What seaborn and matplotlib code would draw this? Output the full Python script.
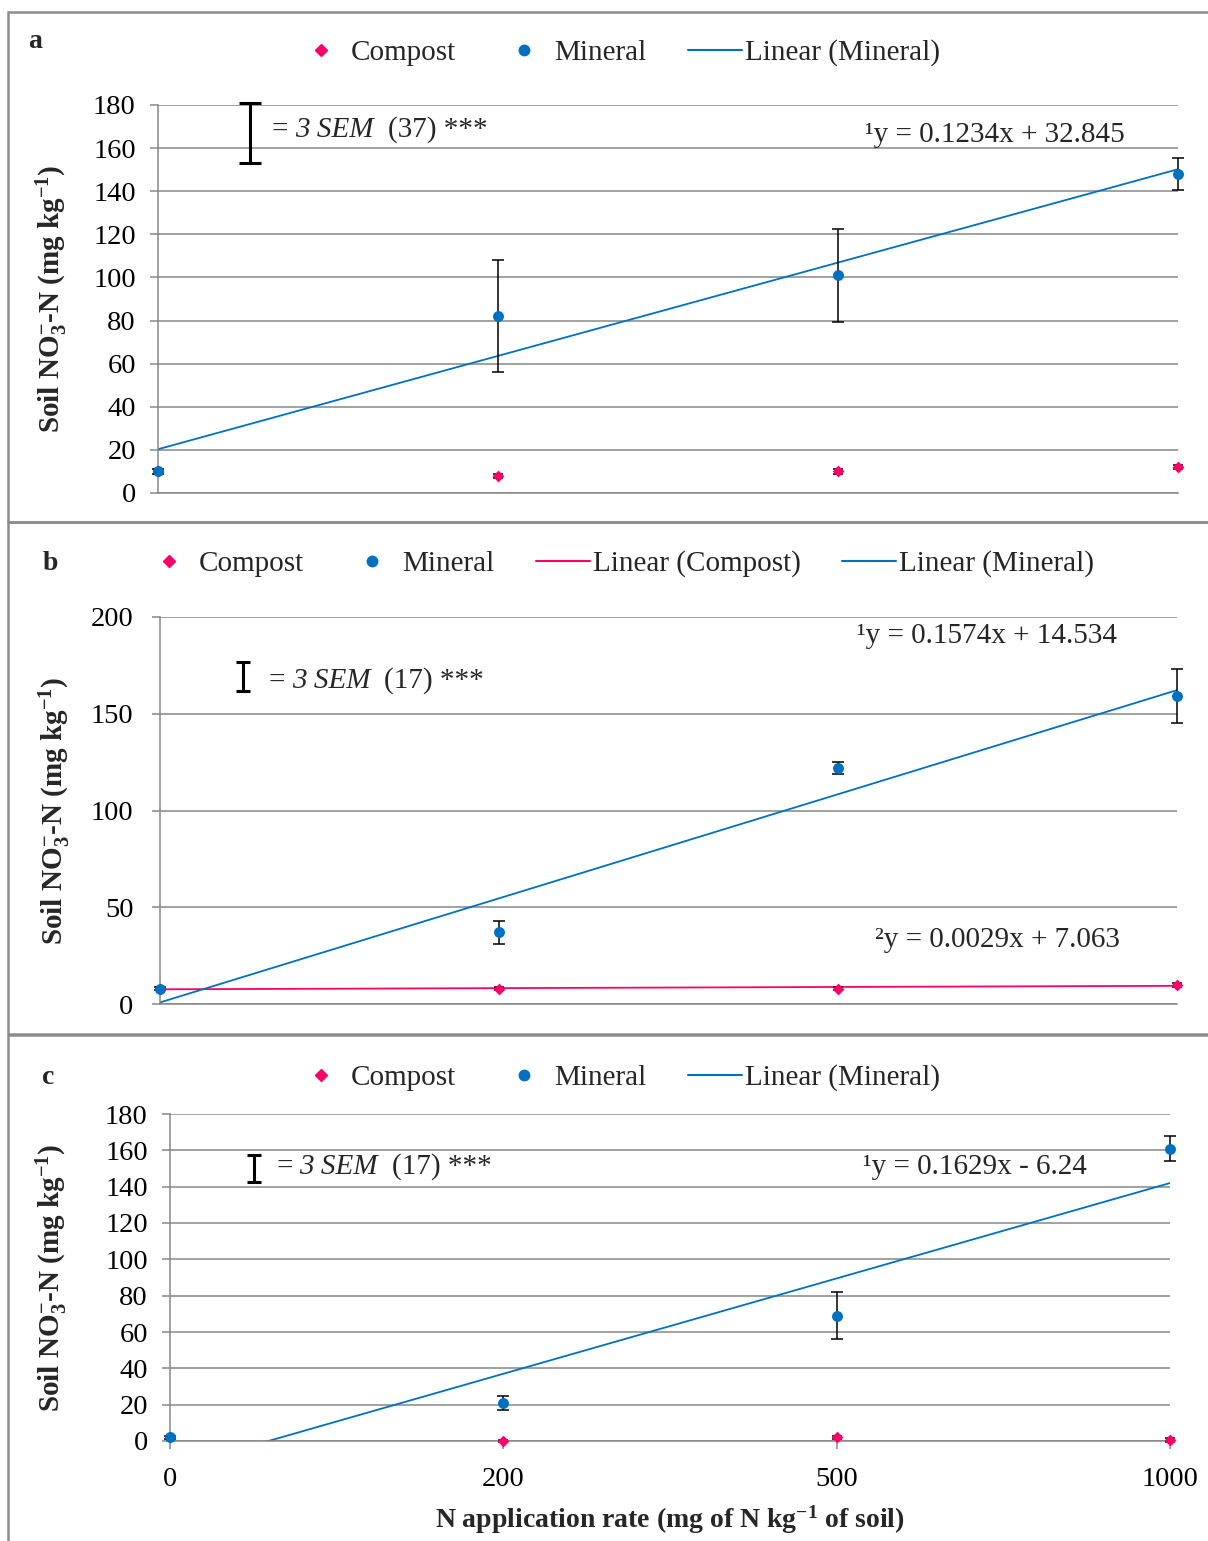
import numpy as np
import matplotlib
matplotlib.use("Agg")
import matplotlib.pyplot as plt
from matplotlib.patches import Rectangle
from matplotlib.lines import Line2D
import seaborn as sns

sns.set_theme(style="white")
plt.rcParams['font.family'] = ['Liberation Serif', 'DejaVu Serif']
plt.rcParams['mathtext.fontset'] = 'custom'
plt.rcParams['mathtext.rm'] = 'Liberation Serif'
plt.rcParams['mathtext.it'] = 'Liberation Serif:italic'
plt.rcParams['mathtext.bf'] = 'Liberation Serif:bold'

PINK = '#FF0066'
BLUE = '#0070C0'
GRID = '#878787'

# ---- data ----
rates = ["0", "200", "500", "1000"]

compost_a = [10, 8, 10, 12]
compost_a_err = [1, 1, 1, 1]
mineral_a = [10, 82, 101, 148]
mineral_a_err = [1, 26, 21.5, 7.5]

compost_b = [8, 8, 8, 10]
compost_b_err = [1, 1, 1, 1]
mineral_b = [8, 37, 122, 159]
mineral_b_err = [1, 6, 3, 14]

compost_c = [2, 0, 2, 0.5]
compost_c_err = [1, 0.5, 1, 1]
mineral_c = [2, 21, 69, 161]
mineral_c_err = [1, 4, 13, 7]

sem_a = (167, 14)
sem_b = (169.5, 7.5)
sem_c = (150, 7.5)

eq_a = "\u00b9y = 0.1234x + 32.845"
eq_b1 = "\u00b9y = 0.1574x + 14.534"
eq_b2 = "\u00b2y = 0.0029x + 7.063"
eq_c = "\u00b9y = 0.1629x - 6.24"

ylab = r"Soil NO$_\mathbf{3}^\mathbf{-}$-N (mg kg$^\mathbf{-1}$)"
xlab = r"N application rate (mg of N kg$^\mathbf{-1}$ of soil)"

W, H = 1208, 1541
fig = plt.figure(figsize=(W / 100, H / 100), dpi=100)


def px_axes(left, right, top, bottom):
    return fig.add_axes([left / W, 1 - bottom / H, (right - left) / W, (bottom - top) / H])


def panel(ax, compost, compost_err, mineral, mineral_err, ymax, ystep,
          fit_compost, sem, sem_x, sem_cap, show_x, tickpad):
    pos = np.arange(len(rates))
    ax.errorbar(pos, compost, yerr=compost_err, fmt='none', ecolor='black',
                elinewidth=1.1, capsize=3.5, capthick=1.1, clip_on=False, zorder=3)
    ax.errorbar(pos, mineral, yerr=mineral_err, fmt='none', ecolor='black',
                elinewidth=1.1, capsize=4, capthick=1.1, clip_on=False, zorder=3)
    sns.scatterplot(x=pos, y=compost, marker='D', color=PINK, s=36, linewidth=0,
                    clip_on=False, zorder=4, ax=ax)
    sns.scatterplot(x=pos, y=mineral, marker='o', color=BLUE, s=62, linewidth=0,
                    clip_on=False, zorder=4, ax=ax)
    if fit_compost:
        sns.regplot(x=pos, y=compost, scatter=False, ci=None, truncate=True,
                    color=PINK, line_kws=dict(lw=1.3, zorder=2), ax=ax)
    sns.regplot(x=pos, y=mineral, scatter=False, ci=None, truncate=True,
                color=BLUE, line_kws=dict(lw=1.3, zorder=2), ax=ax)
    # 3 SEM bar
    ax.errorbar([sem_x], [sem[0]], yerr=[sem[1]], fmt='none', ecolor='black',
                elinewidth=2.2, capsize=sem_cap, capthick=2.2, clip_on=False, zorder=3)

    ax.set_xlim(0, 3)
    ax.set_ylim(0, ymax)
    ax.set_yticks(np.arange(0, ymax + 1, ystep))
    ax.set_xticks(pos)
    ax.yaxis.grid(True, color=GRID, lw=1.1)
    ax.xaxis.grid(False)
    ax.set_axisbelow(True)
    for s in ['top', 'right']:
        ax.spines[s].set_visible(False)
    for s in ['left', 'bottom']:
        ax.spines[s].set_color(GRID)
        ax.spines[s].set_linewidth(1.1)
    ax.tick_params(axis='y', left=True, direction='out', length=6, width=1.1,
                   color=GRID, labelsize=20.5, pad=tickpad, labelcolor='black')
    if show_x:
        ax.set_xticklabels(rates)
        ax.tick_params(axis='x', bottom=True, direction='out', length=6, width=1.1,
                       color=GRID, labelsize=20.5, pad=13, labelcolor='black')
    else:
        ax.set_xticklabels([])
        ax.tick_params(axis='x', bottom=False)
    ax.set_ylabel(ylab, fontsize=21, fontweight='bold', va='center')
    ax.set_xlabel('')


def sem_text(ax, x, y, n):
    t1 = ax.text(x, y, "=", fontsize=21, va='center')
    t2 = ax.annotate("3 SEM", xy=(1, 0.5), xycoords=t1, xytext=(5, 0),
                     textcoords='offset points', fontsize=21, style='italic',
                     va='center', ha='left')
    ax.annotate(f"({n}) ***", xy=(1, 0.5), xycoords=t2, xytext=(10, 0),
                textcoords='offset points', fontsize=21, va='center', ha='left')


def legend(handles, labels, cx, cy):
    fig.legend(handles, labels, loc='center', bbox_to_anchor=(cx / W, 1 - cy / H),
               ncol=len(handles), frameon=False, fontsize=21, handlelength=1.85,
               handletextpad=0.1, columnspacing=1.42, borderaxespad=0)


h_comp = Line2D([], [], marker='D', color=PINK, ls='', markersize=6)
h_min = Line2D([], [], marker='o', color=BLUE, ls='', markersize=7.5)
h_lc = Line2D([], [], color=PINK, lw=1.5)
h_lm = Line2D([], [], color=BLUE, lw=1.5)

# panel a
ax_a = px_axes(158, 1178, 105, 493)
panel(ax_a, compost_a, compost_a_err, mineral_a, mineral_a_err, 180, 20,
      False, sem_a, 0.27, 8, False, 10)
sem_text(ax_a, 0.335, 168.5, 37)
ax_a.text(2.08, 166, eq_a, fontsize=21, va='center')
ax_a.yaxis.set_label_coords((52 - 158) / 1020, 0.5)
legend([h_comp, h_min, h_lm], ["Compost", "Mineral", "Linear (Mineral)"], 617, 53)
fig.text(35 / W, 1 - 42 / H, "a", fontsize=20, fontweight='bold', ha='center', va='center')

# panel b
ax_b = px_axes(160, 1177, 617, 1004)
panel(ax_b, compost_b, compost_b_err, mineral_b, mineral_b_err, 200, 50,
      True, sem_b, 0.245, 5, False, 13)
sem_text(ax_b, 0.32, 167, 17)
ax_b.text(2.056, 190, eq_b1, fontsize=21, va='center')
ax_b.text(2.11, 33, eq_b2, fontsize=21, va='center')
ax_b.yaxis.set_label_coords((55 - 160) / 1017, 0.5)
legend([h_comp, h_min, h_lc, h_lm],
       ["Compost", "Mineral", "Linear (Compost)", "Linear (Mineral)"], 618, 564)
fig.text(50 / W, 1 - 563 / H, "b", fontsize=20, fontweight='bold', ha='center', va='center')

# panel c
ax_c = px_axes(170, 1170, 1114, 1441)
panel(ax_c, compost_c, compost_c_err, mineral_c, mineral_c_err, 180, 20,
      False, sem_c, 0.252, 5, True, 10)
sem_text(ax_c, 0.318, 151, 17)
ax_c.text(2.08, 151, eq_c, fontsize=21, va='center')
ax_c.yaxis.set_label_coords((52 - 170) / 1000, 0.5)
ax_c.set_xlabel(xlab, fontsize=20, fontweight='bold', labelpad=8)
legend([h_comp, h_min, h_lm], ["Compost", "Mineral", "Linear (Mineral)"], 617, 1078)
fig.text(48 / W, 1 - 1077 / H, "c", fontsize=20, fontweight='bold', ha='center', va='center')

# panel frames
for top, bottom in [(12, 522), (522, 1034), (1035, 1560)]:
    fig.add_artist(Rectangle((8 / W, 1 - bottom / H), 1.2, (bottom - top) / H,
                             transform=fig.transFigure, fill=False,
                             edgecolor='#8c8c8c', lw=1.8, clip_on=False))

fig.savefig("out.png", dpi=100)
